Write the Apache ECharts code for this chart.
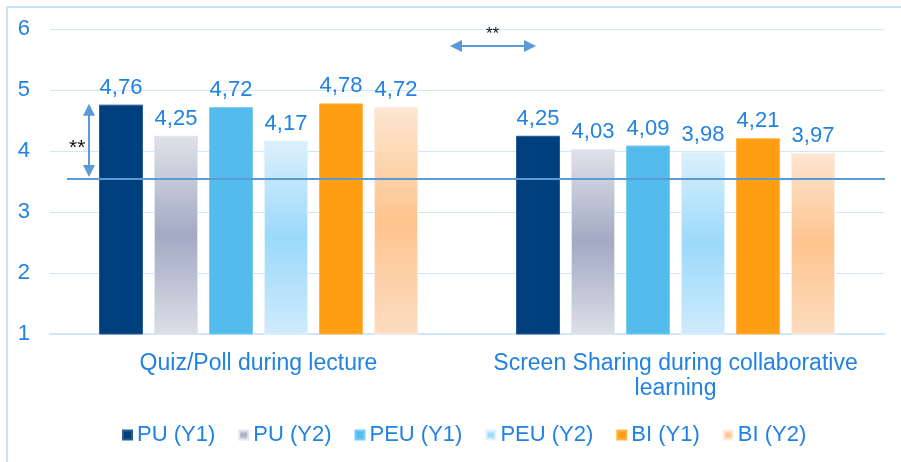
<!DOCTYPE html>
<html>
<head>
<meta charset="utf-8">
<script src="https://cdn.jsdelivr.net/npm/echarts@6/dist/echarts.min.js"></script>
<style>
  html, body { margin: 0; padding: 0; background: #fff; }
  #main { width: 901px; height: 462px; }
</style>
</head>
<body>
<div id="main"></div>
<script>
// data
const categories = ['Quiz/Poll during lecture', 'Screen Sharing during collaborative\nlearning'];
const seriesNames = ['PU (Y1)', 'PU (Y2)', 'PEU (Y1)', 'PEU (Y2)', 'BI (Y1)', 'BI (Y2)'];
const puY1 = [4.76, 4.25];
const puY2 = [4.25, 4.03];
const peuY1 = [4.72, 4.09];
const peuY2 = [4.17, 3.98];
const biY1 = [4.78, 4.21];
const biY2 = [4.72, 3.97];
const refLevel = 3.54;

const txtBlue = '#2282e2';
const font = 'Liberation Sans, Arial, sans-serif';

function vgrad(top, mid, bottom) {
    return new echarts.graphic.LinearGradient(0, 0, 0, 1, [
        {offset: 0, color: top},
        {offset: 0.5, color: mid},
        {offset: 1, color: bottom}
    ]);
}

const styles = [
    {color: '#003f7d', borderColor: '#2b5d94'},
    {color: vgrad('#e0e2e9', '#a2aac4', '#dcdfe7'), borderColor: '#e4e6ec'},
    {color: '#53bcec', borderColor: '#7ccdf2'},
    {color: vgrad('#dcf0fc', '#9bd9fb', '#cfebfc'), borderColor: '#e3f3fd'},
    {color: '#ff9e12', borderColor: '#ffb54d'},
    {color: vgrad('#fde6d1', '#fdc48e', '#fcdcc0'), borderColor: '#feeee0'}
];
const values = [puY1, puY2, peuY1, peuY2, biY1, biY2];

let chart = echarts.init(document.getElementById('main'));

let series = seriesNames.map((name, i) => ({
    name: name,
    type: 'bar',
    barWidth: 44,
    barGap: '25%',
    itemStyle: {
        color: styles[i].color,
        borderColor: styles[i].borderColor,
        borderWidth: 1
    },
    label: {
        show: true,
        position: 'top',
        distance: 6,
        color: txtBlue,
        fontSize: 22,
        fontFamily: font,
        formatter: p => p.value.toFixed(2).replace('.', ',')
    },
    data: values[i]
}));

chart.setOption({
    animation: false,
    backgroundColor: '#fff',
    textStyle: {fontFamily: font},
    grid: {left: 50, right: 17, top: 29, bottom: 128},
    legend: {
        data: seriesNames,
        top: 419,
        left: 117,
        icon: 'rect',
        itemWidth: 9,
        itemHeight: 9,
        itemGap: 23,
        textStyle: {color: txtBlue, fontSize: 22, fontFamily: font}
    },
    xAxis: {
        type: 'category',
        data: categories,
        axisLine: {lineStyle: {color: '#cfe6fb', width: 2}},
        axisTick: {show: false},
        axisLabel: {interval: 0, color: txtBlue, fontSize: 23, fontFamily: font, margin: 17, lineHeight: 25}
    },
    yAxis: {
        type: 'value',
        min: 1,
        max: 6,
        interval: 1,
        axisLine: {show: false},
        axisTick: {show: false},
        splitLine: {lineStyle: {color: '#cfe6fb', width: 1}},
        axisLabel: {color: txtBlue, fontSize: 22, fontFamily: font, margin: 20}
    },
    series: series
});

// annotations: reference line, significance arrows
let yRef = chart.convertToPixel({yAxisIndex: 0}, refLevel);
let yTop = chart.convertToPixel({yAxisIndex: 0}, puY1[0]);
let yHigh = chart.convertToPixel({yAxisIndex: 0}, 5.72);
const arrowCol = '#5b9bd5';

chart.setOption({
    graphic: [
        // frame
        {type: 'line', shape: {x1: 7, y1: 7, x2: 901, y2: 7}, style: {stroke: '#c6e2fb', lineWidth: 2}},
        {type: 'line', shape: {x1: 7, y1: 7, x2: 7, y2: 462}, style: {stroke: '#c6e2fb', lineWidth: 2}},
        // reference line
        {type: 'line', z: 10, shape: {x1: 67, y1: yRef, x2: 885, y2: yRef}, style: {stroke: arrowCol, lineWidth: 2}},
        // vertical arrow
        {type: 'line', z: 10, shape: {x1: 89, y1: yTop + 6, x2: 89, y2: yRef - 6}, style: {stroke: arrowCol, lineWidth: 2}},
        {type: 'polygon', z: 10, shape: {points: [[89, yTop - 1], [83, yTop + 11], [95, yTop + 11]]}, style: {fill: arrowCol}},
        {type: 'polygon', z: 10, shape: {points: [[89, yRef - 2], [83, yRef - 14], [95, yRef - 14]]}, style: {fill: arrowCol}},
        {type: 'text', z: 10, left: 69, top: yRef - 41, style: {text: '**', fill: '#111', fontSize: 21, fontFamily: font}},
        // horizontal arrow
        {type: 'line', z: 10, shape: {x1: 455, y1: yHigh, x2: 531, y2: yHigh}, style: {stroke: arrowCol, lineWidth: 2}},
        {type: 'polygon', z: 10, shape: {points: [[450, yHigh], [462, yHigh - 6], [462, yHigh + 6]]}, style: {fill: arrowCol}},
        {type: 'polygon', z: 10, shape: {points: [[536, yHigh], [524, yHigh - 6], [524, yHigh + 6]]}, style: {fill: arrowCol}},
        {type: 'text', z: 10, left: 486, top: yHigh - 20, style: {text: '**', fill: '#111', fontSize: 17, fontFamily: font}}
    ]
});
</script>
</body>
</html>
